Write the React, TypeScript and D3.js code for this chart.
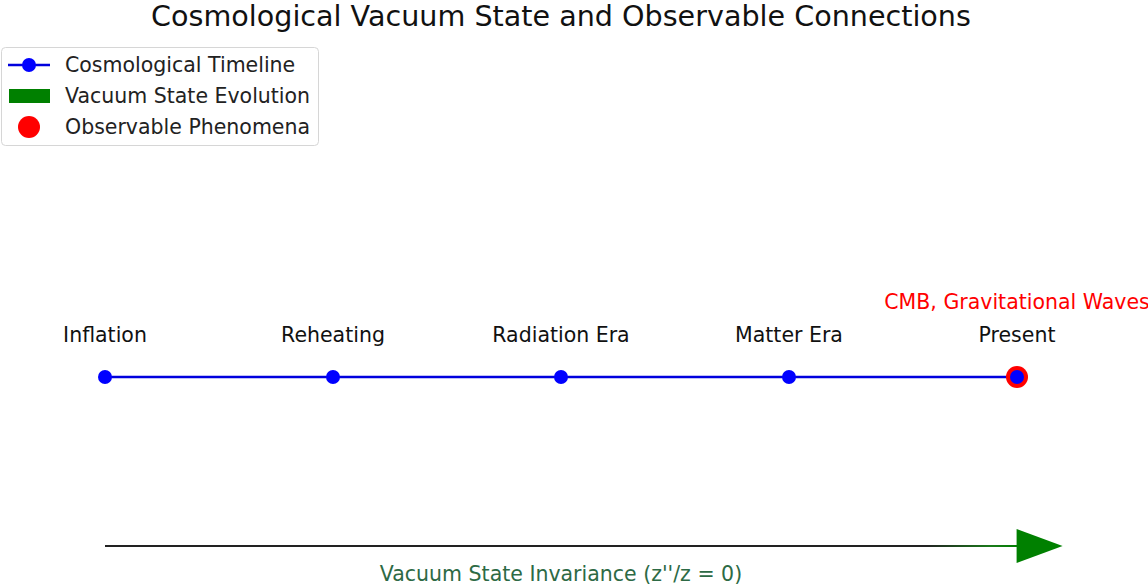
import React from "react";
import * as d3 from "d3";

const eras = ["Inflation", "Reheating", "Radiation Era", "Matter Era", "Present"];
const eraIndex = [0, 1, 2, 3, 4];
const observables = [{ era: 4, label: "CMB, Gravitational Waves" }];
const legendItems = ["Cosmological Timeline", "Vacuum State Evolution", "Observable Phenomena"];
const arrowRange = [0, 4.2];
const arrowLabel = "Vacuum State Invariance (z''/z = 0)";

const W = 1148;
const H = 585;
const font = "DejaVu Sans, sans-serif";
const fs = 20.5;

export default function App() {
  const x = d3.scaleLinear().domain([0, 4]).range([105, 1017]);
  const y = d3.scaleLinear().domain([-1, 1]).range([546, 208]);
  const yLine = y(0);
  const yArrow = y(-1);
  const line = d3
    .line<number>()
    .x((d) => x(d))
    .y(() => yLine);

  const ax0 = x(arrowRange[0]);
  const ax1 = x(arrowRange[1]);
  const headLen = 46;
  const headHalf = 17;

  return (
    <div style={{ position: "fixed", left: 0, top: 0 }}>
      <svg width={W} height={H} style={{ display: "block", background: "#fff" }}>
        <defs>
          <linearGradient id="arrowGrad" x1="0" x2="1" y1="0" y2="0">
            <stop offset="0" stopColor="#222" />
            <stop offset="0.9" stopColor="#222" />
            <stop offset="0.97" stopColor="#1a7a1a" />
            <stop offset="1" stopColor="green" />
          </linearGradient>
        </defs>
        <text x={561} y={16} textAnchor="middle" dominantBaseline="central" fontFamily={font} fontSize={28.6} fill="#111">
          Cosmological Vacuum State and Observable Connections
        </text>

        <path d={line(eraIndex) || ""} fill="none" stroke="#0000dd" strokeWidth={2.6} />
        {observables.map((o) => (
          <circle key={o.label} cx={x(o.era)} cy={yLine} r={11} fill="red" />
        ))}
        {eraIndex.map((i) => (
          <circle key={i} cx={x(i)} cy={yLine} r={7} fill="blue" />
        ))}
        {eras.map((e, i) => (
          <text key={e} x={x(i)} y={yLine - 42} textAnchor="middle" dominantBaseline="central" fontFamily={font} fontSize={fs} fill="#111">
            {e}
          </text>
        ))}
        {observables.map((o) => (
          <text key={o.label} x={x(o.era)} y={yLine - 75} textAnchor="middle" dominantBaseline="central" fontFamily={font} fontSize={fs} fill="red">
            {o.label}
          </text>
        ))}

        <rect x={ax0} y={yArrow - 1} width={ax1 - headLen - ax0 + 2} height={2} fill="url(#arrowGrad)" />
        <path
          d={`M${ax1 - headLen},${yArrow - headHalf} L${ax1},${yArrow} L${ax1 - headLen},${yArrow + headHalf} Z`}
          fill="green"
        />
        <text x={561} y={yArrow + 28} textAnchor="middle" dominantBaseline="central" fontFamily={font} fontSize={fs} fill="#2d6a45">
          {arrowLabel}
        </text>

        <g>
          <rect x={1.5} y={47.5} width={317} height={98} rx={4} fill="#fff" fillOpacity={0.8} stroke="#d6d6d6" />
          {legendItems.map((t, i) => {
            const cy = 65 + i * 31;
            return (
              <g key={t}>
                {i === 0 && (
                  <>
                    <line x1={8} x2={50} y1={cy} y2={cy} stroke="#0000dd" strokeWidth={2.6} />
                    <circle cx={29} cy={cy} r={7} fill="blue" />
                  </>
                )}
                {i === 1 && <rect x={9} y={cy - 7} width={41} height={14} fill="green" />}
                {i === 2 && <circle cx={29} cy={cy} r={11} fill="red" />}
                <text x={65} y={cy} dominantBaseline="central" fontFamily={font} fontSize={fs} fill="#222">
                  {t}
                </text>
              </g>
            );
          })}
        </g>
      </svg>
    </div>
  );
}
